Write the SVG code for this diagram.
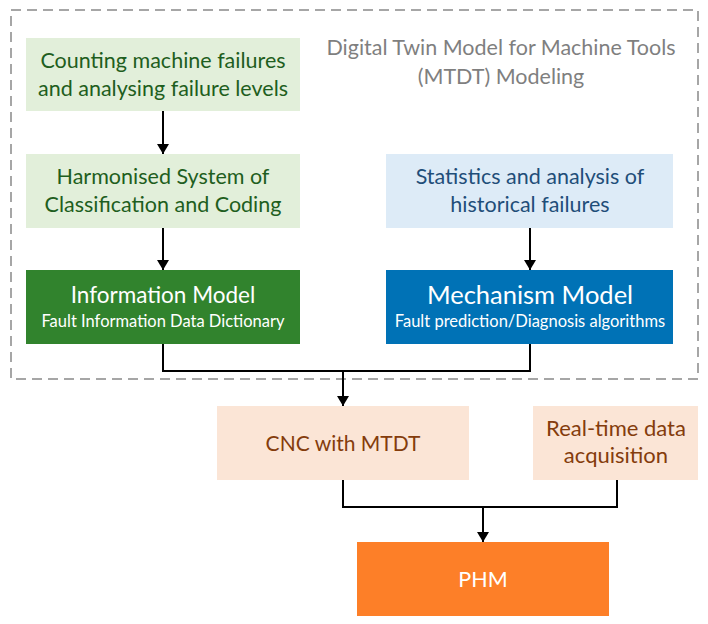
<svg xmlns="http://www.w3.org/2000/svg" width="708" height="624" viewBox="0 0 708 624">
<defs>
<style>
text{font-family:Lato,"Liberation Sans",sans-serif;text-anchor:middle}
.t{font-size:21.5px}
.tt{font-size:21.5px}
.big{font-size:22.5px;fill:#fff}
.sm{font-size:16.5px;fill:#fff}
.g{fill:#1E5E20}
.b{fill:#1F4E79}
.o{fill:#843C0C;font-size:21px}
.con{fill:none;stroke:#000;stroke-width:2}
</style>
<marker id="ah" viewBox="0 0 10 12" refX="10" refY="6" markerWidth="10" markerHeight="12" markerUnits="userSpaceOnUse" orient="auto">
<path d="M0,0 L10,6 L0,12 Z" fill="#000"/>
</marker>
</defs>
<rect width="708" height="624" fill="#fff"/>
<g id="frame">
<rect x="11" y="10" width="687" height="369" fill="none" stroke="#A6A6A6" stroke-width="2" stroke-dasharray="10,6"/>
<text x="501" y="55" class="tt" fill="#7F7F7F">Digital Twin Model for Machine Tools</text>
<text x="501" y="84" class="tt" fill="#7F7F7F">(MTDT) Modeling</text>
</g>
<g id="connectors">
<line class="con" x1="163" y1="111" x2="163" y2="154" marker-end="url(#ah)"/>
<line class="con" x1="163" y1="228" x2="163" y2="270" marker-end="url(#ah)"/>
<line class="con" x1="530" y1="228" x2="530" y2="270" marker-end="url(#ah)"/>
<polyline class="con" points="163,344 163,371 530,371 530,344"/>
<line class="con" x1="343" y1="371" x2="343" y2="406" marker-end="url(#ah)"/>
<polyline class="con" points="343,480 343,507 617,507 617,480"/>
<line class="con" x1="483" y1="507" x2="483" y2="542" marker-end="url(#ah)"/>
</g>
<g id="counting">
<rect x="26" y="38" width="274" height="73" fill="#E2EFDA"/>
<text x="163" y="68" class="t g">Counting machine failures</text>
<text x="163" y="96" class="t g">and analysing failure levels</text>
</g>
<g id="harmonised">
<rect x="26" y="154" width="274" height="74" fill="#E2EFDA"/>
<text x="163" y="184" class="t g">Harmonised System of</text>
<text x="163" y="212" class="t g">Classification and Coding</text>
</g>
<g id="info">
<rect x="26" y="270" width="274" height="74" fill="#31832D"/>
<text x="163" y="303" class="big">Information Model</text>
<text x="163" y="327" class="sm">Fault Information Data Dictionary</text>
</g>
<g id="stats">
<rect x="386" y="154" width="287" height="74" fill="#DDEBF7"/>
<text x="530" y="184" class="t b">Statistics and analysis of</text>
<text x="530" y="212" class="t b">historical failures</text>
</g>
<g id="mechanism">
<rect x="386" y="270" width="287" height="74" fill="#0072B6"/>
<text x="530" y="304" class="big" style="font-size:25.5px">Mechanism Model</text>
<text x="530" y="327" class="sm">Fault prediction/Diagnosis algorithms</text>
</g>
<g id="cnc">
<rect x="217" y="406" width="252" height="74" fill="#FBE5D6"/>
<text x="343" y="451" class="t o">CNC with MTDT</text>
</g>
<g id="realtime">
<rect x="533" y="406" width="165" height="74" fill="#FBE5D6"/>
<text x="616" y="436" class="t o" style="font-size:22px">Real-time data</text>
<text x="616" y="463" class="t o" style="font-size:22px">acquisition</text>
</g>
<g id="phm">
<rect x="357" y="542" width="252" height="74" fill="#FD7F28"/>
<text x="483" y="587" class="t" fill="#fff">PHM</text>
</g>
</svg>
